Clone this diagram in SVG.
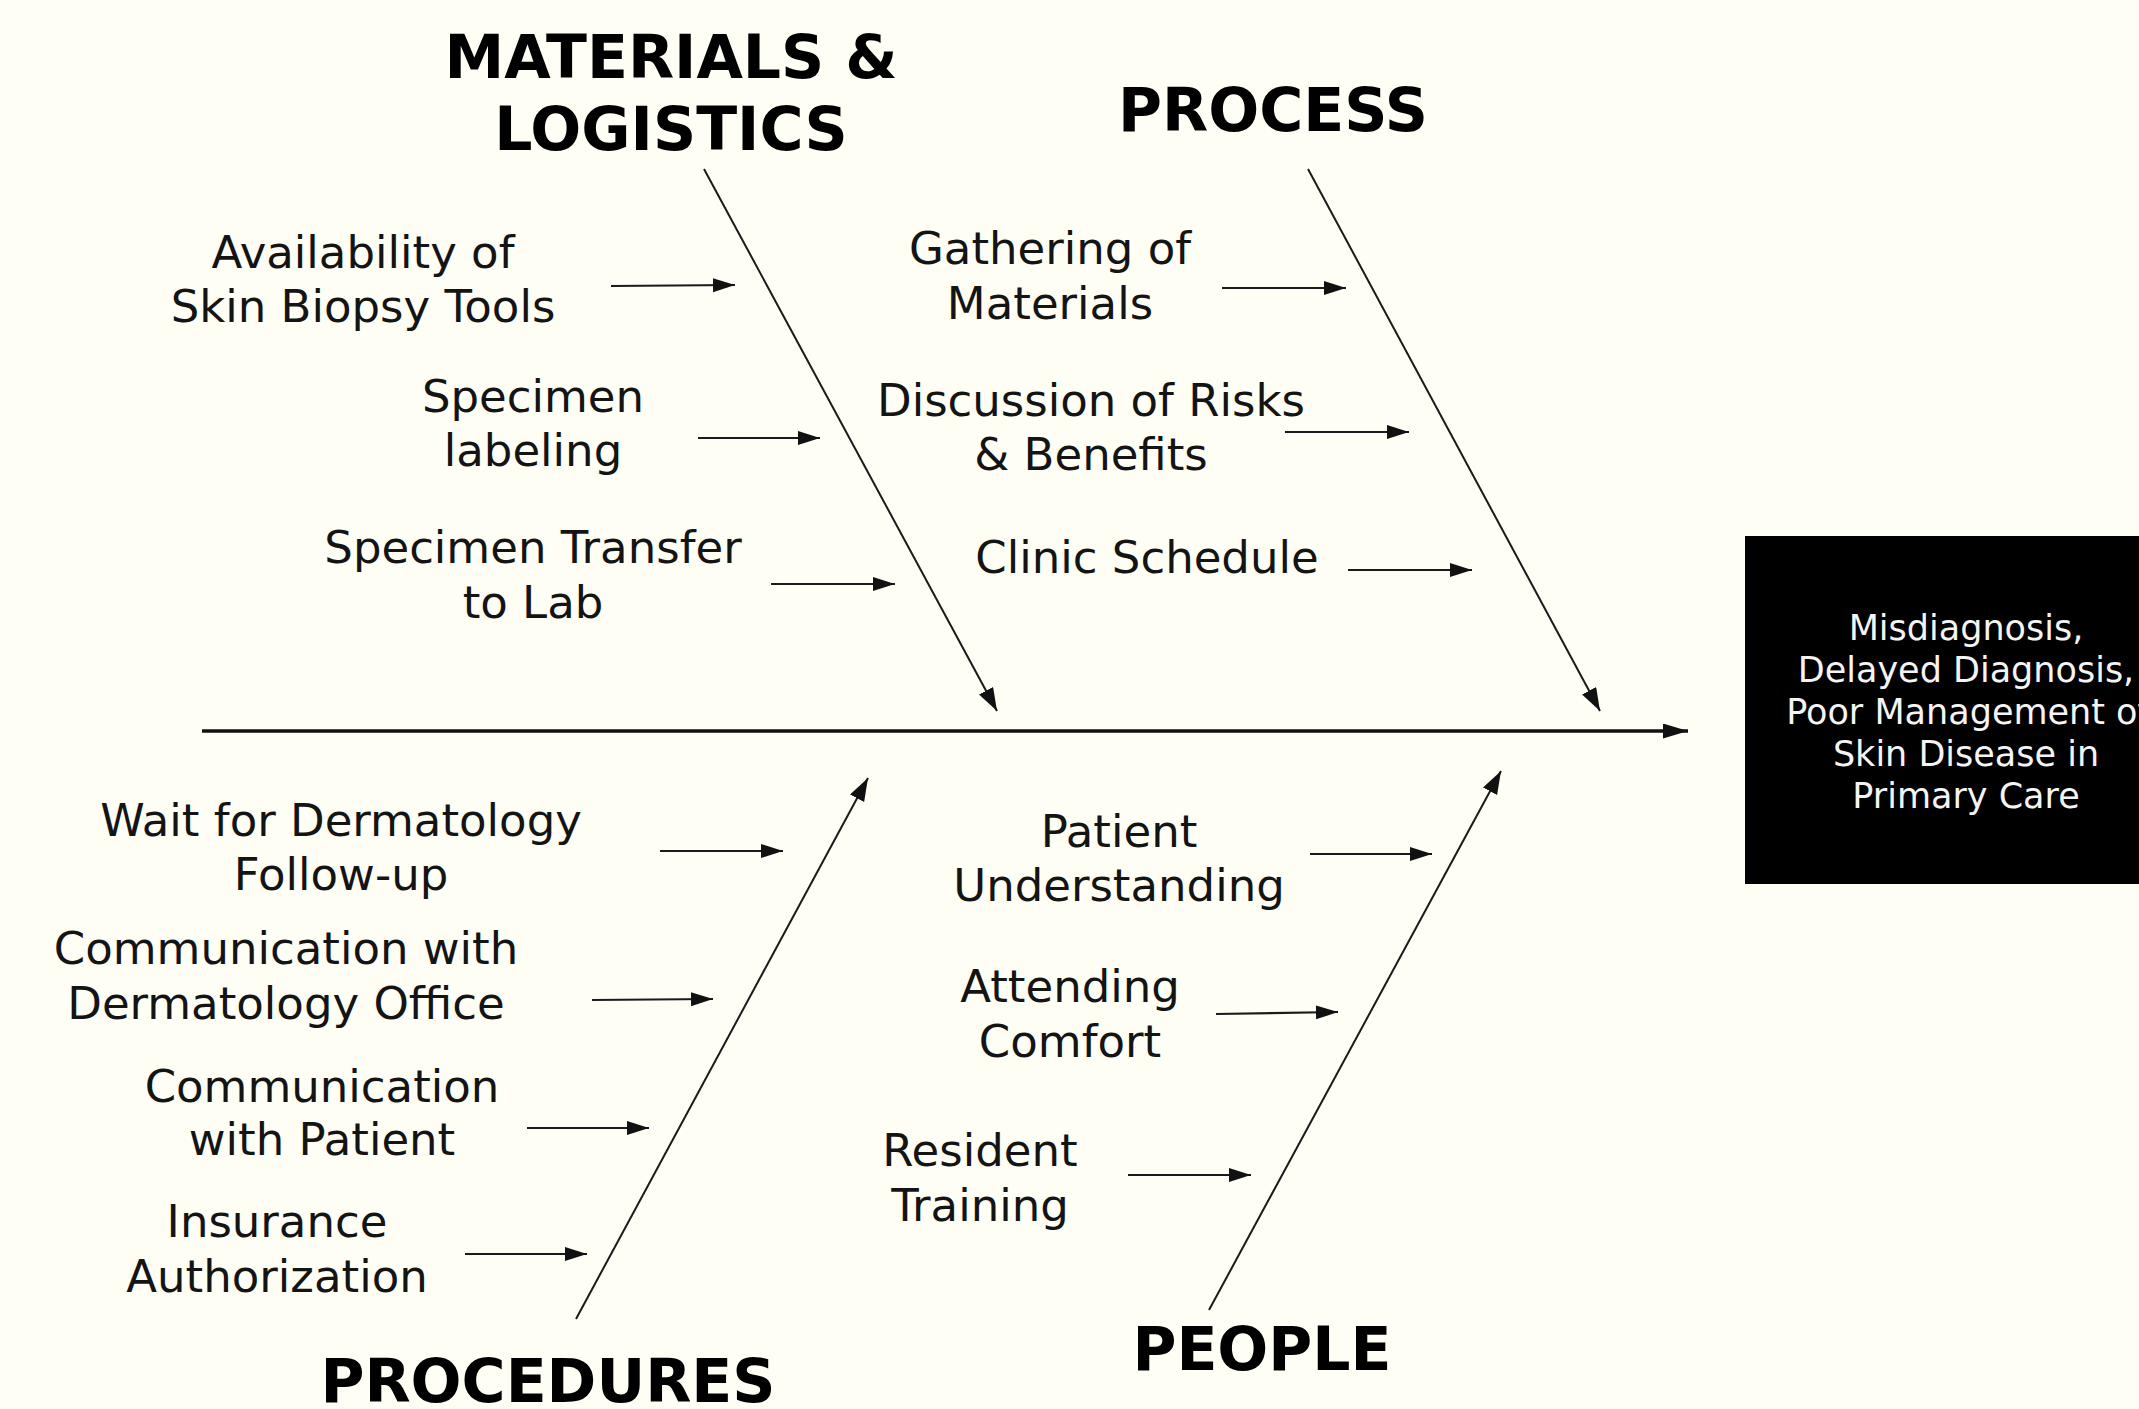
<svg xmlns="http://www.w3.org/2000/svg" width="2139" height="1409" viewBox="0 0 2139 1409">
  <style>
    .label { font-family: "DejaVu Sans", Verdana, sans-serif; font-size: 45px; fill: #141414; text-anchor: middle; }
    .head { font-family: "DejaVu Sans", Verdana, sans-serif; font-size: 60px; font-weight: bold; fill: #000; text-anchor: middle; }
    .effect { font-family: "DejaVu Sans", Verdana, sans-serif; font-size: 35px; fill: #f4f4f4; text-anchor: middle; }
    .bone { stroke: #1a1a1a; stroke-width: 2; fill: none; marker-end: url(#head-lg); }
    .twig { stroke: #1a1a1a; stroke-width: 2.2; fill: none; marker-end: url(#head-sm); }
    .spine { stroke: #111; stroke-width: 3.4; fill: none; marker-end: url(#head-spine); }
  </style>
  <defs>
    <marker id="head-sm" markerUnits="userSpaceOnUse" markerWidth="26" markerHeight="18" refX="22" refY="7" orient="auto">
      <path d="M0,0 L22,7 L0,14 Z" fill="#111"/>
    </marker>
    <marker id="head-lg" markerUnits="userSpaceOnUse" markerWidth="28" markerHeight="20" refX="23" refY="8" orient="auto">
      <path d="M0,0 L23,8 L0,16 Z" fill="#111"/>
    </marker>
    <marker id="head-spine" markerUnits="userSpaceOnUse" markerWidth="30" markerHeight="18" refX="25" refY="7.5" orient="auto">
      <path d="M0,0 L25,7.5 L0,15 Z" fill="#111"/>
    </marker>
  </defs>

  <rect x="0" y="0" width="2139" height="1409" fill="#fefef5"/>

  <!-- spine, bones and cause arrows -->
  <g id="connectors">
    <line class="spine" x1="202" y1="731" x2="1688" y2="731"/>

    <line class="bone" x1="704" y1="169" x2="997" y2="711"/>
    <line class="bone" x1="1308" y1="169" x2="1600" y2="711"/>
    <line class="bone" x1="576" y1="1319" x2="868" y2="778"/>
    <line class="bone" x1="1209" y1="1310" x2="1501" y2="771"/>

    <line class="twig" x1="611" y1="286" x2="735" y2="285"/>
    <line class="twig" x1="698" y1="438" x2="820" y2="438"/>
    <line class="twig" x1="771" y1="584" x2="895" y2="584"/>

    <line class="twig" x1="1222" y1="288" x2="1346" y2="288"/>
    <line class="twig" x1="1285" y1="432" x2="1409" y2="432"/>
    <line class="twig" x1="1348" y1="570" x2="1472" y2="570"/>

    <line class="twig" x1="660" y1="851" x2="783" y2="851"/>
    <line class="twig" x1="592" y1="1000" x2="713" y2="999"/>
    <line class="twig" x1="527" y1="1128" x2="649" y2="1128"/>
    <line class="twig" x1="465" y1="1254" x2="587" y2="1254"/>

    <line class="twig" x1="1310" y1="854" x2="1432" y2="854"/>
    <line class="twig" x1="1216" y1="1014" x2="1338" y2="1012"/>
    <line class="twig" x1="1128" y1="1175" x2="1251" y2="1175"/>
  </g>

  <!-- category headings -->
  <g id="cat-materials">
    <text class="head" x="671" y="78">MATERIALS &amp;</text>
    <text class="head" x="671" y="150">LOGISTICS</text>
  </g>
  <g id="cat-process">
    <text class="head" x="1273" y="131">PROCESS</text>
  </g>
  <g id="cat-procedures">
    <text class="head" x="548" y="1402">PROCEDURES</text>
  </g>
  <g id="cat-people">
    <text class="head" x="1262" y="1370">PEOPLE</text>
  </g>

  <!-- materials & logistics causes -->
  <g id="cause-biopsy-tools">
    <text class="label" x="363" y="268">Availability  of</text>
    <text class="label" x="363" y="322">Skin Biopsy Tools</text>
  </g>
  <g id="cause-labeling">
    <text class="label" x="533" y="412">Specimen</text>
    <text class="label" x="533" y="466">labeling</text>
  </g>
  <g id="cause-transfer">
    <text class="label" x="533" y="563">Specimen Transfer</text>
    <text class="label" x="533" y="618">to Lab</text>
  </g>

  <!-- process causes -->
  <g id="cause-gathering">
    <text class="label" x="1050" y="264">Gathering of</text>
    <text class="label" x="1050" y="319">Materials</text>
  </g>
  <g id="cause-risks">
    <text class="label" x="1091" y="416">Discussion of Risks</text>
    <text class="label" x="1091" y="470">&amp; Benefits</text>
  </g>
  <g id="cause-schedule">
    <text class="label" x="1147" y="573">Clinic Schedule</text>
  </g>

  <!-- procedures causes -->
  <g id="cause-followup">
    <text class="label" x="341" y="836">Wait for Dermatology</text>
    <text class="label" x="341" y="890">Follow-up</text>
  </g>
  <g id="cause-derm-office">
    <text class="label" x="286" y="964">Communication with</text>
    <text class="label" x="286" y="1019">Dermatology Office</text>
  </g>
  <g id="cause-patient-comm">
    <text class="label" x="322" y="1102">Communication</text>
    <text class="label" x="322" y="1155">with Patient</text>
  </g>
  <g id="cause-insurance">
    <text class="label" x="277" y="1237">Insurance</text>
    <text class="label" x="277" y="1292">Authorization</text>
  </g>

  <!-- people causes -->
  <g id="cause-understanding">
    <text class="label" x="1119" y="847">Patient</text>
    <text class="label" x="1119" y="901">Understanding</text>
  </g>
  <g id="cause-attending">
    <text class="label" x="1070" y="1002">Attending</text>
    <text class="label" x="1070" y="1057">Comfort</text>
  </g>
  <g id="cause-training">
    <text class="label" x="980" y="1166">Resident</text>
    <text class="label" x="980" y="1221">Training</text>
  </g>

  <!-- effect box -->
  <g id="effect">
    <rect x="1745" y="536" width="400" height="348" fill="#000"/>
    <text class="effect" x="1966" y="640">Misdiagnosis,</text>
    <text class="effect" x="1966" y="682">Delayed Diagnosis,</text>
    <text class="effect" x="1968" y="724">Poor Management of</text>
    <text class="effect" x="1966" y="766">Skin Disease in</text>
    <text class="effect" x="1966" y="808">Primary Care</text>
  </g>
</svg>
